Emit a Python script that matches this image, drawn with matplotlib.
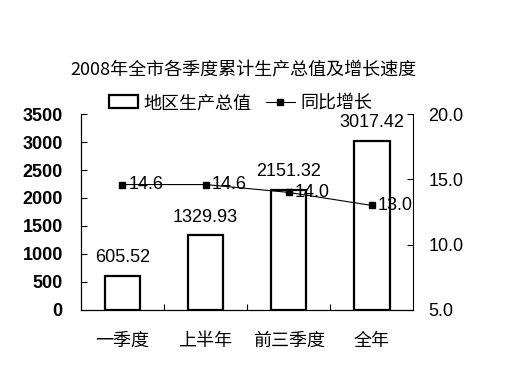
import matplotlib
matplotlib.use('Agg')
import matplotlib.pyplot as plt
from matplotlib.patches import Patch
from matplotlib.lines import Line2D
import numpy as np

plt.rcParams['font.family'] = ['Liberation Sans', 'Noto Sans CJK SC', 'DejaVu Sans']

categories = ['一季度', '上半年', '前三季度', '全年']
gdp = [605.52, 1329.93, 2151.32, 3017.42]
growth = [14.6, 14.6, 14.0, 13.0]
title = '2008年全市各季度累计生产总值及增长速度'

fig = plt.figure(figsize=(5.12, 3.84), dpi=100)
ax = fig.add_axes([0.158, 0.193, 0.649, 0.51])
ax2 = ax.twinx()

x = np.arange(len(categories))
bars = ax.bar(x, gdp, width=0.43, color='white', edgecolor='black', linewidth=1.6, zorder=2)
for xi, v in zip(x, gdp):
    ax.annotate('%.2f' % v, (xi, v), xytext=(0, 7), textcoords='offset points',
                ha='center', va='bottom', fontsize=13)

ax2.plot(x, growth, color='black', linewidth=0.8, marker='s', markersize=5, zorder=3)
for xi, v in zip(x, growth):
    ax2.annotate('%.1f' % v, (xi, v), xytext=(4.5, 0), textcoords='offset points',
                 ha='left', va='center', fontsize=13, zorder=2)

ax.set_xlim(-0.5, 3.5)
ax.set_ylim(0, 3500)
ax.set_yticks(np.arange(0, 3501, 500))
ax2.set_ylim(5, 20)
ax2.set_yticks([5, 10, 15, 20])
ax2.set_yticklabels(['5.0', '10.0', '15.0', '20.0'])

ax.set_xticks([0.5, 1.5, 2.5])
ax.set_xticklabels([])
ax.set_xticks(x, minor=True)
ax.set_xticklabels(categories, minor=True, fontsize=13, family=['Noto Sans CJK SC'])
ax.tick_params(axis='x', which='major', direction='in', length=4, width=0.8)
ax.tick_params(axis='x', which='minor', length=0, pad=16)
ax.tick_params(axis='y', direction='in', length=4, width=0.8, pad=13, labelsize=13)
ax2.tick_params(axis='y', direction='in', length=4, width=0.8, pad=11, labelsize=13)
for lab in ax.get_yticklabels():
    lab.set_fontweight('bold')

for a in (ax, ax2):
    a.spines['top'].set_visible(False)
ax.spines['right'].set_visible(False)
for s in ('left', 'bottom'):
    ax.spines[s].set_linewidth(0.8)
ax2.spines['right'].set_linewidth(0.8)

fig.text(0.475, 0.818, title, ha='center', va='center', fontsize=13,
         family=['Noto Sans CJK SC'])

handles = [Patch(facecolor='white', edgecolor='black', linewidth=1.6),
           Line2D([], [], color='black', marker='s', markersize=5, linewidth=0.8)]
fig.legend(handles, ['地区生产总值', '同比增长'], loc='center', bbox_to_anchor=(0.47, 0.732),
           ncol=2, frameon=False, prop={'family': 'Noto Sans CJK SC', 'size': 13},
           handlelength=1.6, handletextpad=0.3, columnspacing=0.8)

fig.savefig('out.png', dpi=100)
